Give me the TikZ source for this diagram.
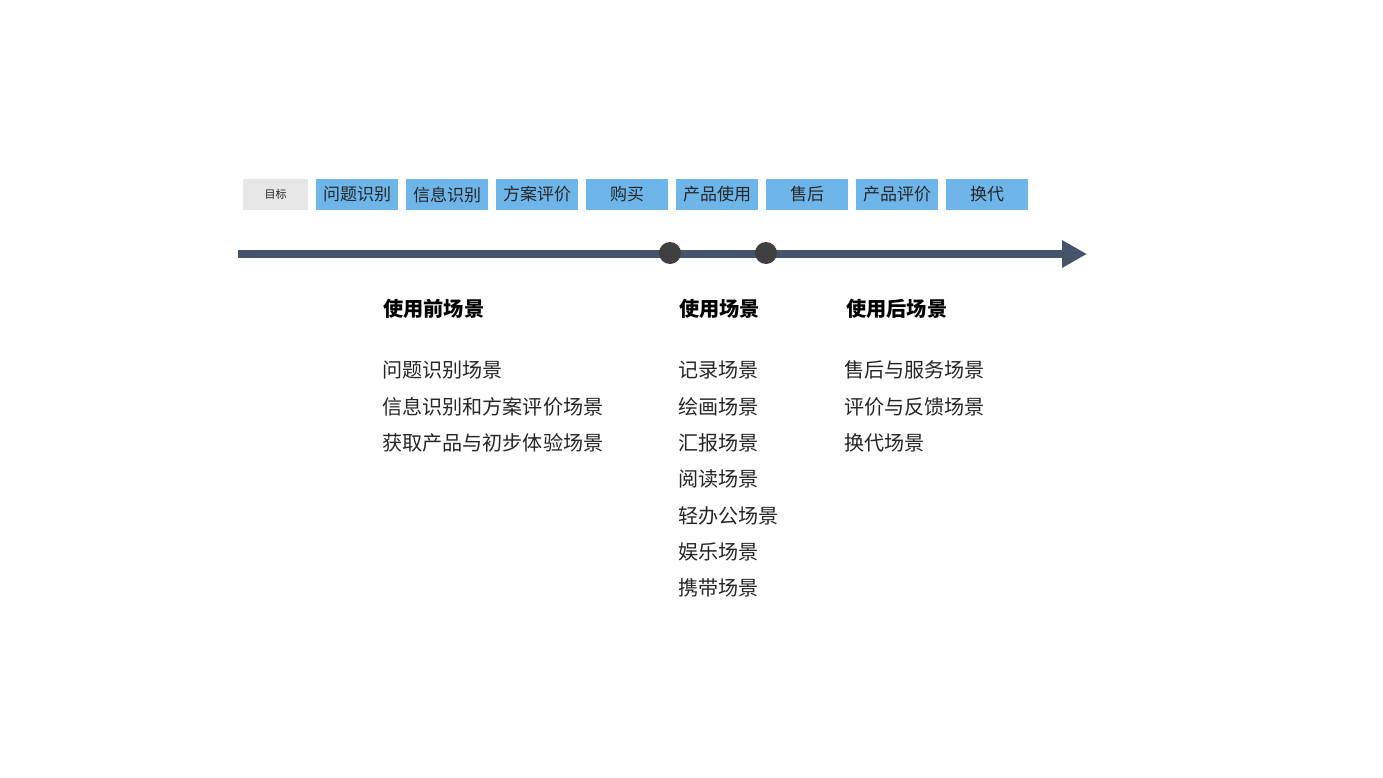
\documentclass[tikz,border=0pt]{standalone}
\usepackage{fontspec}
\setmainfont{Noto Sans CJK SC}
\usetikzlibrary{arrows.meta}
\definecolor{boxblue}{HTML}{6EB5E9}
\definecolor{boxgray}{HTML}{E6E6E6}
\definecolor{axis}{HTML}{44546A}
\definecolor{dot}{HTML}{404040}
\definecolor{txt}{HTML}{262626}
\tikzset{
  stagebox/.style={fill=boxblue, minimum width=82pt, minimum height=31pt, inner sep=0pt, text=txt, font=\fontsize{17}{19}\selectfont},
  goalbox/.style={fill=boxgray, minimum width=65pt, minimum height=31pt, inner sep=0pt, text=txt, font=\fontsize{11}{12}\selectfont},
  heading/.style={anchor=west, inner sep=0pt, font=\fontsize{20.2}{22}\selectfont\bfseries, text=black},
  item/.style={anchor=west, inner sep=0pt, font=\fontsize{20.1}{22}\selectfont, text=txt},
  marker/.style={circle, fill=dot, minimum size=22pt, inner sep=0pt},
}
\begin{document}
\begin{tikzpicture}[x=1pt,y=-1pt]
\useasboundingbox[fill=white] (0,0) rectangle (1383,778);
% boxes
\node[goalbox] (goal) at (275.5,194.5) {目标};
\node[stagebox] (s1) at (357,194.5) {问题识别};
\node[stagebox] (s2) at (447,194.5) {信息识别};
\node[stagebox] (s3) at (537,194.5) {方案评价};
\node[stagebox] (s4) at (627,194.5) {购买};
\node[stagebox] (s5) at (717,194.5) {产品使用};
\node[stagebox] (s6) at (807,194.5) {售后};
\node[stagebox] (s7) at (897,194.5) {产品评价};
\node[stagebox] (s8) at (987,194.5) {换代};
% axis
\coordinate (axstart) at (238,254);
\coordinate (axend) at (1087,254);
\draw[axis, line width=8pt, -{Triangle[length=25pt,width=26pt]}] (axstart) -- (axend);
\node[marker] (m1) at (670,253) {};
\node[marker] (m2) at (766,253) {};
% headings
\node[heading] (h1) at (383,309) {使用前场景};
\node[heading] (h2) at (679,309) {使用场景};
\node[heading] (h3) at (846,309) {使用后场景};
% column 1
\node[item] (a1) at (382,370) {问题识别场景};
\node[item] (a2) at (382,406.5) {信息识别和方案评价场景};
\node[item] (a3) at (382,443) {获取产品与初步体验场景};
% column 2
\node[item] (b1) at (678,370) {记录场景};
\node[item] (b2) at (678,406.5) {绘画场景};
\node[item] (b3) at (678,443) {汇报场景};
\node[item] (b4) at (678,479) {阅读场景};
\node[item] (b5) at (678,515.5) {轻办公场景};
\node[item] (b6) at (678,552) {娱乐场景};
\node[item] (b7) at (678,588) {携带场景};
% column 3
\node[item] (c1) at (844,370) {售后与服务场景};
\node[item] (c2) at (844,406.5) {评价与反馈场景};
\node[item] (c3) at (844,443) {换代场景};
\end{tikzpicture}
\end{document}
